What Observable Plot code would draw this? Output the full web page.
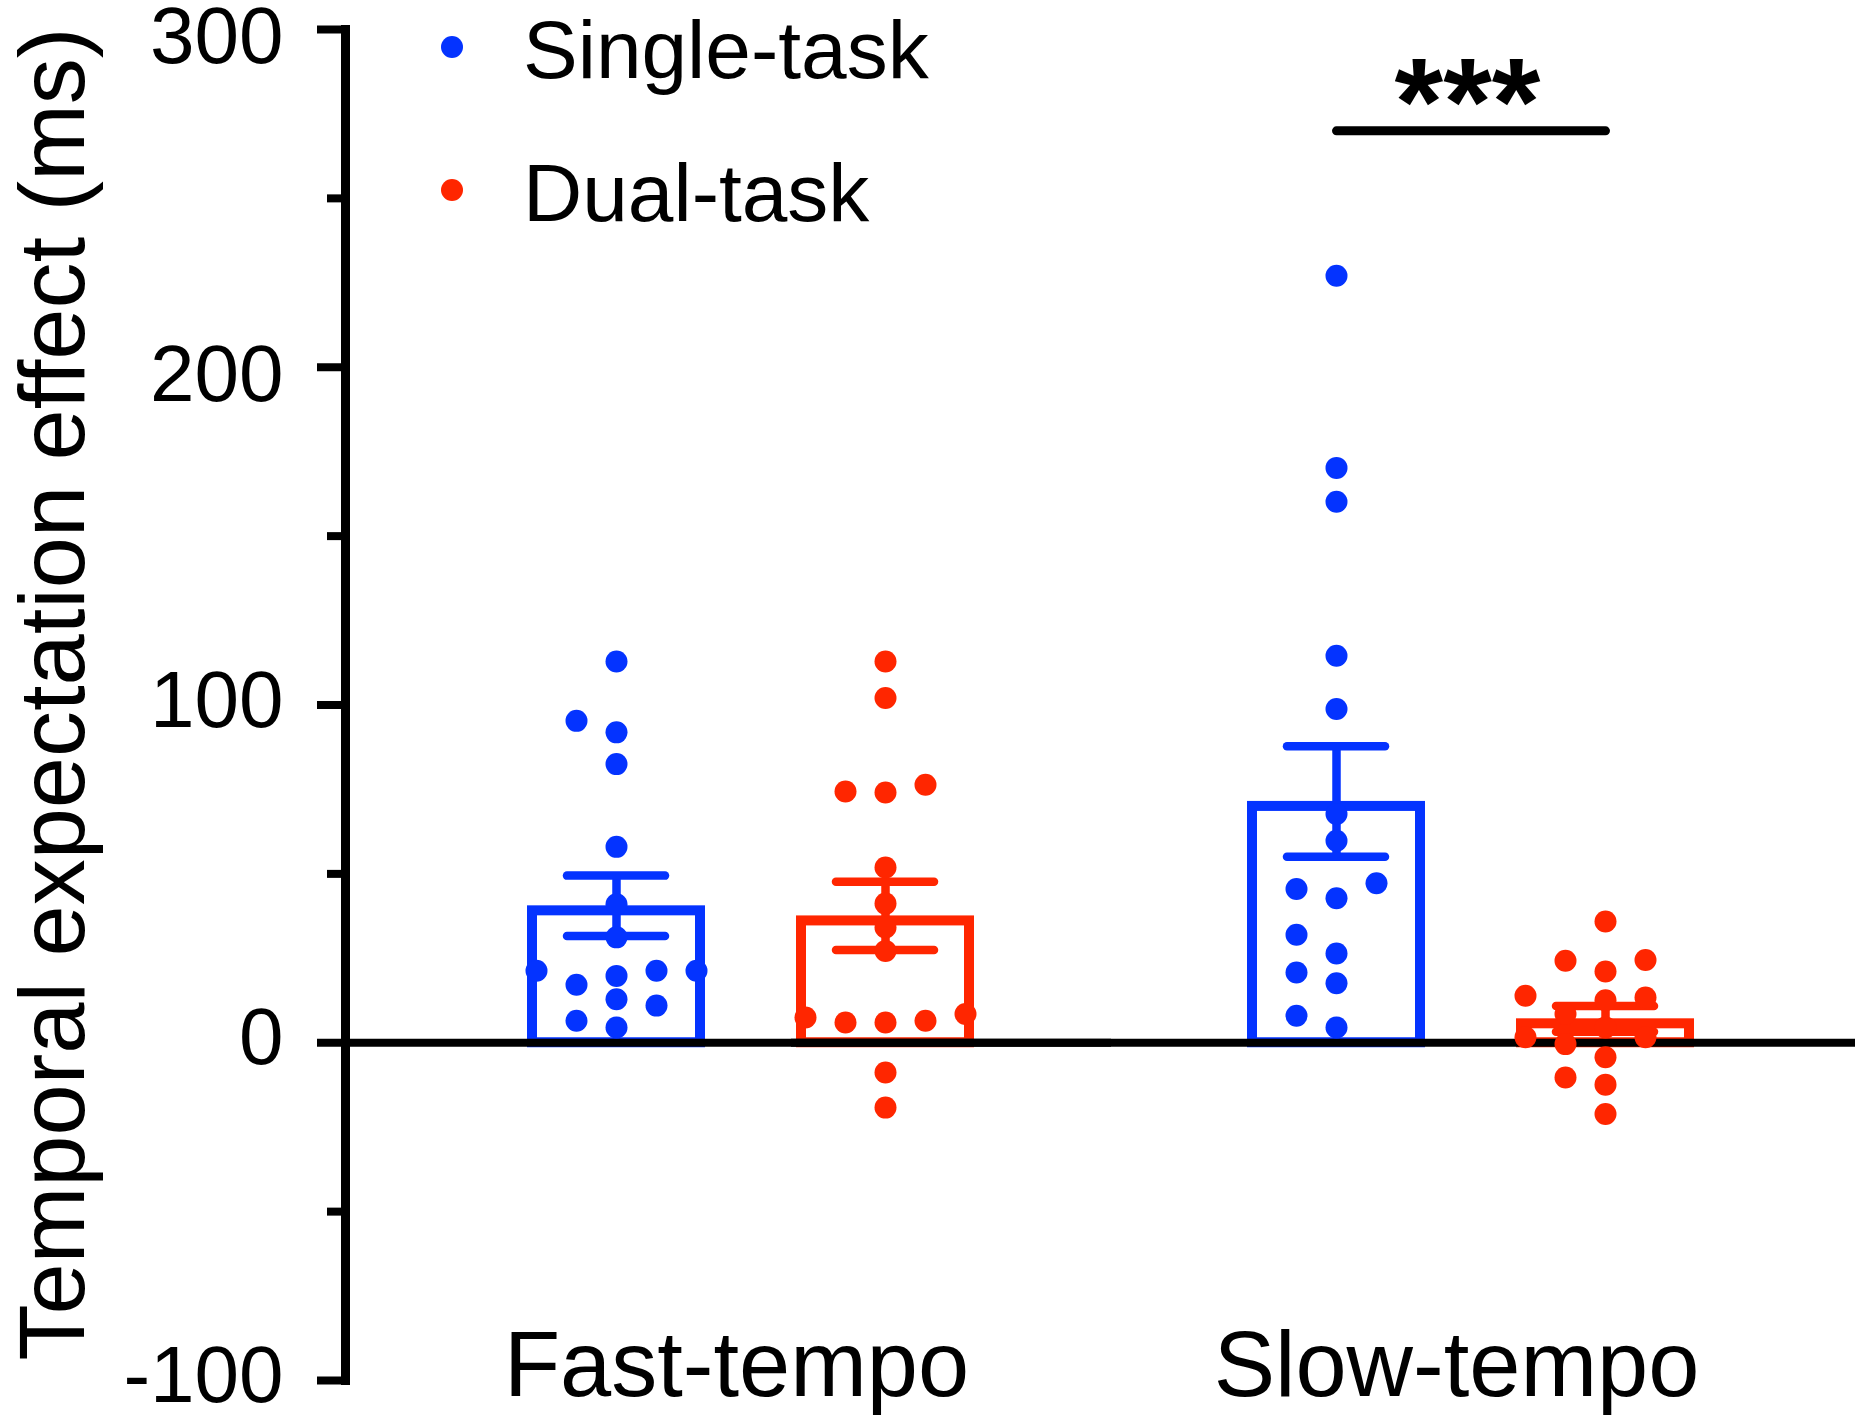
<!DOCTYPE html>
<html>
<head>
<meta charset="utf-8">
<script src="https://cdn.jsdelivr.net/npm/d3@7"></script>
<script src="https://cdn.jsdelivr.net/npm/@observablehq/plot@0.6"></script>
<style>
  body { margin: 0; background: #fff; }
  #wrap { position: relative; width: 1867px; height: 1422px; color: #000; }
  #legend { position: absolute; left: 0; top: 0; pointer-events: none; }
</style>
</head>
<body>
<div id="wrap"></div>
<script>
// ---------- data ----------
const tempos = ["Fast-tempo", "Slow-tempo"];
const tasks = ["Single-task", "Dual-task"];
const taskColors = ["#0433ff", "#ff2600"];

const fastSingle = [112.9, 95.3, 91.9, 82.5, 58.0, 41.0, 31.2, 21.3, 17.2, 19.8, 21.3, 21.3, 12.9, 11.0, 6.5, 4.5];
const fastDual   = [112.9, 102.1, 74.4, 76.4, 74.1, 51.9, 41.2, 34.1, 27.2, 8.5, 6.0, 6.5, 6.0, 7.5, -8.8, -19.2];
const slowSingle = [227.1, 170.2, 160.2, 114.6, 98.8, 67.7, 59.8, 45.5, 42.8, 47.2, 32.0, 26.4, 20.8, 17.6, 8.0, 4.5];
const slowDual   = [35.9, 24.3, 24.5, 21.1, 12.6, 13.4, 13.9, 8.5, 4.5, 1.6, 1.6, -0.4, -4.3, -10.3, -12.4, -21.1];

const yTicks = [-100, 0, 100, 200, 300];
const yTicksUpper = [200, 300];
const yTicksLower = [-100, 0, 100];
const yMinorTicks = [-50, 50, 150, 250];
const yTitle = "Temporal expectation effect (ms)";
const significance = [{tempo: "Slow-tempo", from: "Single-task", to: "Dual-task", y: 270, label: "***"}];

// ---------- tables built from the arrays ----------
const groups = [
  ["Fast-tempo", "Single-task", fastSingle],
  ["Fast-tempo", "Dual-task", fastDual],
  ["Slow-tempo", "Single-task", slowSingle],
  ["Slow-tempo", "Dual-task", slowDual]
];
const rows = groups.flatMap(([tempo, task, vals]) => vals.map(value => ({tempo, task, value})));
const summary = groups.map(([tempo, task, vals]) => ({
  tempo, task,
  mean: d3.mean(vals),
  sem: d3.deviation(vals) / Math.sqrt(vals.length)
}));

// beeswarm-like column layout computed from the y pixel positions
const DOT_R = 11, COL_STEP = 40;
function swarm(index, scales, values, dimensions, context, next) {
  const X = values.x, Y = values.y;
  const X2 = Float64Array.from(X);
  const byCol = d3.group(index, i => Math.round(X[i]));
  for (const [, idx] of byCol) {
    const sorted = idx.slice().sort((a, b) => Y[b] - Y[a]);
    const placed = [];
    for (const i of sorted) {
      for (let k = 0; k < 20; k++) {
        const col = k === 0 ? 0 : (k % 2 ? -Math.ceil(k / 2) : Math.ceil(k / 2));
        if (!placed.some(p => p.col === col && Math.abs(p.y - Y[i]) < 2 * DOT_R + 1)) {
          placed.push({col, y: Y[i]});
          X2[i] = X[i] + col * COL_STEP;
          break;
        }
      }
    }
  }
  return next(index, scales, {...values, x: X2}, dimensions, context);
}

const FONT = "'Liberation Sans', Arial, Helvetica, sans-serif";
const fmt = d => String(d);

const plot = Plot.plot({
  width: 1867,
  height: 1422,
  marginLeft: 391,
  marginRight: 36,
  marginTop: 29,
  marginBottom: 42,
  style: {fontFamily: FONT, background: "white", color: "#000", overflow: "visible"},
  fx: {domain: tempos, paddingInner: 0, paddingOuter: 0, axis: null, label: null},
  x: {domain: tasks, paddingInner: 0.337, paddingOuter: 0.502, axis: null, label: null},
  y: {domain: [-100, 300]},
  color: {domain: tasks, range: taskColors},
  marks: [
    Plot.frame({anchor: "left", facetAnchor: "left", dx: -46, stroke: "#000", strokeWidth: 9}),
    // tick lines
    Plot.axisY({ticks: yTicks, tickSize: 28, tickFormat: () => "", strokeWidth: 8, dx: -46, label: null}),
    Plot.axisY({ticks: yMinorTicks, tickSize: 18, tickFormat: () => "", strokeWidth: 8, dx: -46, label: null}),
    // tick labels
    Plot.axisY({ticks: yTicksUpper, tickSize: 0, tickPadding: 62, tickFormat: fmt,
                fontSize: 80, dx: -46, dy: 8, label: null}),
    Plot.axisY({ticks: yTicksLower, tickSize: 0, tickPadding: 62, tickFormat: fmt,
                fontSize: 80, dx: -46, dy: -4, label: null}),
    Plot.text([yTitle], {text: d => d, facetAnchor: "left", frameAnchor: "left", rotate: -90,
                         textAnchor: "middle", lineAnchor: "top", dx: -373, dy: -11,
                         fontSize: 92, fill: "#000"}),
    Plot.barY(summary, {fx: "tempo", x: "task", y1: 0, y2: "mean", fill: "none", stroke: "task",
                        strokeWidth: 10, insetTop: 5, insetLeft: 5, insetRight: 5}),
    // zero line: across the first facet from the axis, and across the second to the right edge
    Plot.ruleY(["Fast-tempo"], {fx: d => d, y: () => 0, stroke: "#000", strokeWidth: 8, insetLeft: -46}),
    Plot.ruleY(["Slow-tempo"], {fx: d => d, y: () => 0, stroke: "#000", strokeWidth: 8,
                                insetLeft: -320, insetRight: -24}),
    Plot.ruleX(summary, {fx: "tempo", x: "task", y1: d => d.mean - d.sem, y2: d => d.mean + d.sem,
                         stroke: "task", strokeWidth: 8.5}),
    Plot.tickY(summary, {fx: "tempo", x: "task", y: d => d.mean + d.sem, stroke: "task",
                         strokeWidth: 8.5, insetLeft: 40, insetRight: 40, strokeLinecap: "round"}),
    Plot.tickY(summary, {fx: "tempo", x: "task", y: d => d.mean - d.sem, stroke: "task",
                         strokeWidth: 8.5, insetLeft: 40, insetRight: 40, strokeLinecap: "round"}),
    Plot.dot(rows, {fx: "tempo", x: "task", y: "value", fill: "task", r: DOT_R, render: swarm}),
    Plot.link(significance, {fx: "tempo", x1: "from", x2: "to", y1: "y", y2: "y",
                             stroke: "#000", strokeWidth: 9, strokeLinecap: "round"}),
    Plot.text(significance, {fx: "tempo", y: "y", text: "label", lineAnchor: "bottom",
                             dx: -4, dy: 14, fontSize: 125, fontWeight: "bold", fill: "#000"}),
    Plot.text(tempos, {fx: d => d, text: d => d, frameAnchor: "bottom", lineAnchor: "bottom",
                       dx: -15, dy: 15, fontSize: 92, fill: "#000"})
  ]
});

const wrap = document.getElementById("wrap");
wrap.appendChild(plot);

// legend (top-left, inside the plot area)
const legend = d3.select(wrap).append("svg")
  .attr("id", "legend").attr("width", 1000).attr("height", 260)
  .style("font-family", FONT);
const item = legend.selectAll("g").data(tasks).join("g")
  .attr("transform", (d, i) => `translate(452, ${i === 0 ? 47 : 190})`);
item.append("circle").attr("r", 11).attr("fill", (d, i) => taskColors[i]);
item.append("text").attr("x", 71).attr("y", 31).attr("font-size", 82).attr("fill", "#000").text(d => d);
</script>
</body>
</html>
